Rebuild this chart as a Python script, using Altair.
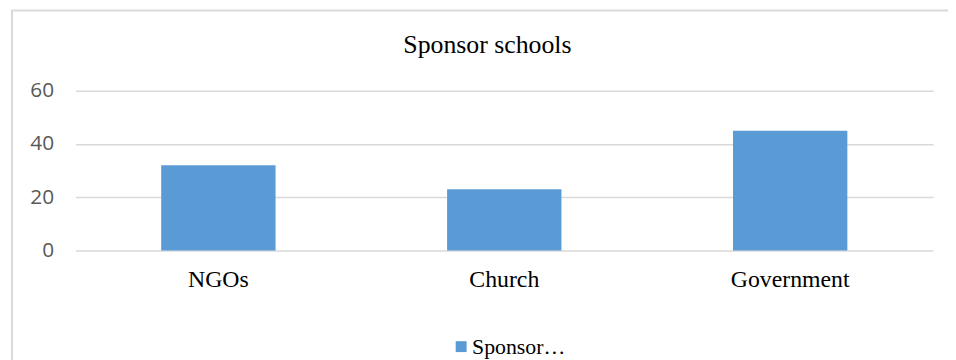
import altair as alt
import pandas as pd

categories = ["NGOs", "Church", "Government"]
values = [32, 23, 45]
series_name = "Sponsor schools"
chart_title = "Sponsor schools"
y_ticks = [0, 20, 40, 60]

df = pd.DataFrame({"category": categories, "value": values, "series": [series_name] * len(categories)})

W, H = 865, 161

bars = alt.Chart(df).mark_bar().encode(
    x=alt.X(
        "category:N",
        sort=categories,
        scale=alt.Scale(paddingInner=0.6, paddingOuter=0.3),
        axis=alt.Axis(
            title=None, labelAngle=0, domain=False, ticks=False, grid=False,
            labelFont="Liberation Serif", labelFontSize=24, labelColor="#000000",
            labelPadding=17,
        ),
    ),
    y=alt.Y(
        "value:Q",
        scale=alt.Scale(domain=[0, 60]),
        axis=alt.Axis(
            values=y_ticks, title=None, domain=False, ticks=False,
            labelFont="Open Sans", labelFontSize=21, labelColor="#595959",
            labelPadding=22, gridColor="#d9d9d9", gridWidth=1.5,
        ),
    ),
    color=alt.Color(
        "series:N",
        scale=alt.Scale(range=["#5b9bd5"]),
        legend=alt.Legend(
            title=None, orient="none", legendX=378, legendY=247, direction="horizontal",
            symbolType="square", symbolSize=121, symbolStrokeWidth=0,
            labelFont="Liberation Serif", labelFontSize=22, labelColor="#000000",
            labelExpr="truncate(datum.label, 8)", labelOffset=0, padding=0, symbolOpacity=1,
        ),
    ),
)

frame = alt.Chart(pd.DataFrame({"a": [0]})).mark_rect(
    fillOpacity=0, stroke="#d9d9d9", strokeWidth=2
).encode(
    x=alt.value(-64), x2=alt.value(W + 40), y=alt.value(-81), y2=alt.value(H + 140)
)

title = alt.Chart(pd.DataFrame({"t": [chart_title]})).mark_text(
    font="Liberation Serif", fontSize=26, color="#000000", align="center", baseline="alphabetic"
).encode(
    text="t:N", x=alt.value(W / 2 - 17), y=alt.value(-38)
)

chart = alt.layer(frame, bars, title).properties(
    width=W,
    height=H,
    autosize=alt.AutoSizeParams(type="none"),
    padding={"left": 68, "top": 82, "right": 15, "bottom": 109},
).configure_view(stroke=None)

chart.save("out.html", embed_options={"renderer": "svg", "actions": False})
